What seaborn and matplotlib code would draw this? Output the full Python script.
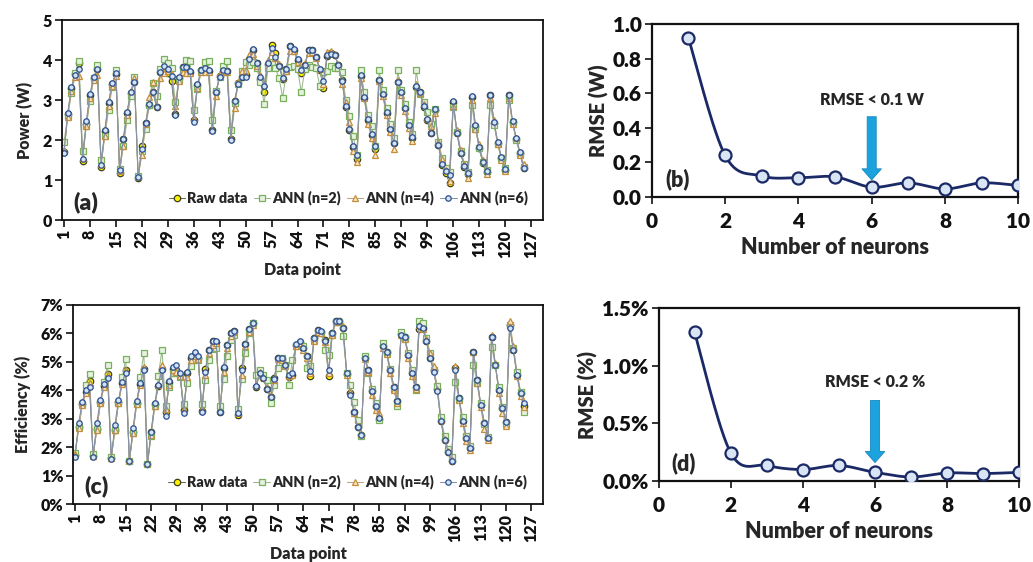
import numpy as np
import pandas as pd
import matplotlib
matplotlib.use("Agg")
import matplotlib.pyplot as plt
import seaborn as sns
from matplotlib.ticker import FuncFormatter

sns.set_theme(style="ticks")
plt.rcParams['font.family'] = ['Lato', 'DejaVu Sans']
W = "heavy"
plt.rcParams['font.weight'] = W
plt.rcParams['axes.labelweight'] = W

# ---------------- data ----------------
data_point = list(range(1, 126))
x_tick_labels = [1, 8, 15, 22, 29, 36, 43, 50, 57, 64, 71, 78, 85, 92, 99, 106, 113, 120, 127]
series_names = ["Raw data", "ANN (n=2)", "ANN (n=4)", "ANN (n=6)"]

power_raw = [
    1.70, 2.65, 3.30, 3.65, 3.92, 1.48, 2.40, 3.12, 3.55, 3.78,
    1.33, 2.22, 2.92, 3.40, 3.66, 1.18, 2.02, 2.68, 3.18, 3.45,
    1.05, 1.84, 2.42, 2.88, 3.20, 2.83, 3.70, 3.75, 3.68, 3.47,
    2.65, 3.55, 3.82, 3.82, 3.70, 2.50, 3.38, 3.75, 3.78, 3.72,
    2.25, 3.20, 3.60, 3.72, 3.72, 2.02, 2.98, 3.42, 3.58, 3.62,
    4.03, 4.25, 3.92, 3.53, 3.20, 3.90, 4.38, 4.18, 3.85, 3.52,
    3.78, 4.36, 4.25, 4.00, 3.68, 3.88, 4.26, 4.24, 4.08, 3.75,
    3.30, 4.10, 4.18, 4.12, 3.88, 3.50, 2.83, 2.25, 1.83, 1.52,
    3.60, 3.05, 2.50, 2.12, 1.78, 3.50, 3.14, 2.67, 2.27, 1.92,
    3.46, 3.20, 2.79, 2.37, 2.06, 3.33, 3.20, 2.83, 2.50, 2.17,
    2.75, 1.87, 1.38, 1.18, 0.92, 2.94, 2.17, 1.67, 1.33, 1.15,
    3.08, 2.35, 1.80, 1.42, 1.20, 3.13, 2.42, 1.92, 1.56, 1.25,
    3.13, 2.44, 2.02, 1.67, 1.30]
power_ann2 = [
    1.95, 2.60, 3.18, 3.68, 3.98, 1.72, 2.35, 2.98, 3.55, 3.87,
    1.50, 2.10, 2.75, 3.32, 3.75, 1.28, 1.85, 2.50, 3.10, 3.58,
    1.10, 1.72, 2.28, 2.88, 3.42, 3.10, 3.78, 4.02, 3.92, 3.80,
    2.95, 3.50, 3.78, 4.00, 3.98, 2.75, 3.28, 3.72, 3.95, 3.98,
    2.50, 3.22, 3.58, 3.85, 3.98, 2.25, 2.92, 3.40, 3.72, 3.95,
    3.88, 3.95, 3.80, 3.45, 2.90, 3.80, 3.95, 3.80, 3.55, 3.06,
    3.72, 3.82, 3.85, 3.78, 3.20, 3.78, 3.88, 3.82, 3.80, 3.35,
    3.70, 3.72, 3.85, 3.80, 3.80, 3.70, 3.00, 2.60, 2.10, 1.62,
    3.75, 3.20, 2.62, 2.35, 1.85, 3.75, 3.25, 2.80, 2.40, 2.05,
    3.75, 3.25, 2.90, 2.45, 2.15, 3.75, 3.15, 2.95, 2.70, 2.40,
    2.78, 1.95, 1.55, 1.30, 1.20, 2.83, 2.20, 1.72, 1.40, 1.20,
    2.87, 2.28, 1.80, 1.45, 1.25, 2.88, 2.38, 1.90, 1.55, 1.30,
    3.00, 2.45, 2.00, 1.65, 1.32]
power_ann4 = [
    1.75, 2.58, 3.22, 3.58, 3.60, 1.55, 2.35, 3.05, 3.50, 3.63,
    1.40, 2.10, 2.85, 3.35, 3.60, 1.22, 1.85, 2.62, 3.22, 3.55,
    1.10, 1.62, 2.40, 3.08, 3.45, 2.85, 3.55, 3.68, 3.72, 3.65,
    2.85, 3.48, 3.70, 3.68, 3.68, 2.55, 3.30, 3.70, 3.70, 3.70,
    2.25, 3.10, 3.65, 3.72, 3.70, 2.05, 2.80, 3.45, 3.72, 3.75,
    4.12, 4.15, 3.85, 3.62, 3.40, 4.00, 4.20, 4.05, 3.90, 3.58,
    3.72, 4.22, 4.22, 3.95, 3.78, 3.92, 4.18, 4.20, 4.05, 3.78,
    3.40, 4.20, 4.22, 4.15, 3.90, 3.40, 2.95, 2.45, 1.72, 1.45,
    3.55, 3.05, 2.40, 2.05, 1.62, 3.48, 3.10, 2.62, 2.20, 1.78,
    3.50, 3.12, 2.72, 2.30, 1.98, 3.40, 3.18, 2.90, 2.55, 2.35,
    2.68, 1.95, 1.52, 1.25, 0.98, 2.85, 2.25, 1.75, 1.40, 1.05,
    3.00, 2.28, 1.90, 1.50, 1.15, 3.05, 2.50, 1.90, 1.50, 1.22,
    3.05, 2.40, 2.05, 1.62, 1.40]
power_ann6 = [
    1.68, 2.68, 3.32, 3.63, 3.78, 1.52, 2.47, 3.15, 3.57, 3.77,
    1.38, 2.25, 2.95, 3.42, 3.67, 1.25, 2.02, 2.71, 3.19, 3.46,
    1.07, 1.78, 2.42, 2.89, 3.19, 2.82, 3.70, 3.85, 3.78, 3.60,
    2.63, 3.58, 3.83, 3.83, 3.72, 2.45, 3.40, 3.75, 3.80, 3.75,
    2.23, 3.20, 3.58, 3.75, 3.72, 2.00, 2.98, 3.40, 3.58, 3.58,
    4.03, 4.27, 3.92, 3.58, 3.35, 3.92, 4.30, 4.08, 3.85, 3.55,
    3.78, 4.35, 4.27, 4.02, 3.75, 3.88, 4.25, 4.25, 4.08, 3.78,
    3.48, 4.12, 4.15, 4.12, 3.88, 3.48, 2.85, 2.28, 1.85, 1.62,
    3.62, 3.07, 2.52, 2.15, 1.85, 3.50, 3.15, 2.70, 2.28, 1.92,
    3.45, 3.20, 2.79, 2.38, 2.08, 3.35, 3.20, 2.85, 2.52, 2.18,
    2.77, 1.88, 1.40, 1.22, 1.12, 2.97, 2.18, 1.68, 1.35, 1.18,
    3.10, 2.37, 1.82, 1.45, 1.22, 3.13, 2.45, 1.95, 1.58, 1.28,
    3.13, 2.47, 2.05, 1.70, 1.30]

eff_raw = [
    1.72, 2.70, 3.50, 3.95, 4.33, 1.68, 2.65, 3.58, 4.15, 4.58,
    1.62, 2.62, 3.58, 4.25, 4.72, 1.52, 2.55, 3.55, 4.22, 4.75,
    1.42, 2.52, 3.50, 4.15, 4.75, 3.25, 4.30, 4.75, 4.70, 4.55,
    3.30, 4.60, 5.15, 5.28, 5.15, 3.28, 4.75, 5.40, 5.72, 5.70,
    3.22, 4.80, 5.58, 6.00, 6.08, 3.12, 4.78, 5.62, 6.15, 6.35,
    4.12, 4.60, 4.42, 4.05, 3.75, 4.42, 5.15, 5.10, 4.90, 4.46,
    4.55, 5.60, 5.70, 5.48, 5.19, 4.52, 5.83, 6.12, 6.05, 5.77,
    4.52, 6.01, 6.45, 6.45, 6.18, 4.58, 3.90, 3.25, 2.72, 2.43,
    5.13, 4.72, 3.98, 3.43, 3.00, 5.57, 5.36, 4.72, 4.13, 3.63,
    5.99, 5.87, 5.25, 4.60, 4.13, 6.15, 6.18, 5.72, 5.15, 4.70,
    4.05, 2.92, 2.25, 1.84, 1.52, 4.78, 3.72, 2.92, 2.33, 1.96,
    5.35, 4.37, 3.49, 2.85, 2.32, 5.89, 4.90, 4.01, 3.37, 2.88,
    6.30, 5.42, 4.54, 3.90, 3.43]
eff_ann2 = [
    1.80, 2.70, 3.52, 4.19, 4.59, 1.75, 2.65, 3.55, 4.30, 4.89,
    1.65, 2.62, 3.55, 4.45, 5.10, 1.52, 2.50, 3.52, 4.48, 5.30,
    1.40, 2.40, 3.45, 4.50, 5.42, 3.43, 4.12, 4.62, 4.60, 4.48,
    3.50, 4.25, 4.85, 5.05, 5.05, 3.50, 4.35, 5.05, 5.45, 5.50,
    3.45, 4.40, 5.22, 5.78, 5.95, 3.35, 4.40, 5.30, 6.00, 6.35,
    4.55, 4.70, 4.55, 4.35, 3.54, 4.20, 4.80, 5.12, 4.90, 4.17,
    5.07, 5.55, 5.65, 5.55, 4.78, 4.85, 5.78, 6.05, 6.00, 5.42,
    5.25, 5.95, 6.40, 6.40, 5.92, 4.60, 4.20, 3.60, 2.95, 2.40,
    5.20, 4.60, 4.05, 3.55, 2.95, 5.65, 5.30, 4.75, 4.05, 3.45,
    6.05, 5.85, 5.30, 4.70, 4.00, 6.42, 6.35, 5.85, 5.30, 4.70,
    4.15, 3.05, 2.40, 1.95, 1.65, 4.30, 3.70, 3.05, 2.40, 2.05,
    4.90, 4.25, 3.55, 2.80, 2.35, 5.54, 4.90, 4.10, 3.40, 2.80,
    6.30, 5.50, 4.65, 3.95, 3.25]
eff_ann4 = [
    1.75, 2.68, 3.48, 3.90, 4.25, 1.70, 2.62, 3.55, 4.12, 4.55,
    1.62, 2.60, 3.55, 4.22, 4.70, 1.55, 2.50, 3.52, 4.20, 4.82,
    1.45, 2.42, 3.45, 4.18, 4.90, 3.35, 4.20, 4.70, 4.65, 4.50,
    3.35, 4.45, 5.05, 5.20, 5.10, 3.35, 4.55, 5.30, 5.60, 5.65,
    3.30, 4.65, 5.50, 5.90, 6.05, 3.20, 4.55, 5.55, 6.05, 6.30,
    4.20, 4.65, 4.45, 4.10, 3.85, 4.35, 5.10, 5.05, 4.85, 4.50,
    4.55, 5.55, 5.65, 5.42, 5.15, 4.60, 5.75, 6.05, 6.00, 5.70,
    4.62, 5.95, 6.40, 6.42, 6.25, 4.55, 3.95, 3.20, 2.75, 2.45,
    5.10, 4.65, 3.85, 3.30, 3.20, 5.50, 5.28, 4.60, 4.00, 3.55,
    5.95, 5.80, 5.15, 4.50, 4.05, 6.30, 6.15, 5.80, 5.30, 4.87,
    4.05, 2.95, 2.30, 1.85, 1.55, 4.85, 3.65, 2.85, 2.20, 1.90,
    5.35, 4.25, 3.40, 2.65, 2.25, 5.95, 4.95, 3.90, 3.20, 2.75,
    6.42, 5.55, 4.50, 3.80, 3.40]
eff_ann6 = [
    1.67, 2.86, 3.60, 4.01, 4.10, 1.64, 2.86, 3.66, 4.21, 4.42,
    1.60, 2.78, 3.66, 4.28, 4.62, 1.52, 2.66, 3.62, 4.24, 4.72,
    1.40, 2.55, 3.54, 4.19, 4.72, 3.10, 4.33, 4.83, 4.89, 4.60,
    3.20, 4.65, 5.19, 5.35, 5.20, 3.25, 4.66, 5.42, 5.75, 5.72,
    3.22, 4.81, 5.58, 6.01, 6.10, 3.19, 4.70, 5.62, 6.15, 6.38,
    4.15, 4.60, 4.43, 4.05, 3.75, 4.40, 5.15, 5.12, 4.88, 4.54,
    4.62, 5.62, 5.72, 5.48, 5.20, 4.68, 5.85, 6.13, 6.07, 5.75,
    4.72, 6.01, 6.45, 6.45, 6.18, 4.60, 3.84, 3.25, 2.72, 2.43,
    5.13, 4.72, 3.98, 3.43, 3.02, 5.55, 5.36, 4.72, 4.13, 3.63,
    5.95, 5.87, 5.25, 4.60, 4.13, 6.25, 6.18, 5.72, 5.15, 4.66,
    3.98, 2.92, 2.25, 1.84, 1.52, 4.72, 3.72, 2.92, 2.33, 1.96,
    5.33, 4.37, 3.49, 2.85, 2.32, 5.89, 4.90, 4.01, 3.37, 2.88,
    6.18, 5.42, 4.54, 3.90, 3.55]

neurons = [1, 2, 3, 4, 5, 6, 7, 8, 9, 10]
rmse_power = [0.92, 0.24, 0.12, 0.11, 0.115, 0.055, 0.08, 0.045, 0.08, 0.065]
rmse_eff = [1.29, 0.245, 0.135, 0.10, 0.135, 0.075, 0.035, 0.07, 0.065, 0.075]

# ---------------- styles ----------------
# name: (marker, size, face, edge, line colour)
styles = {
    "Raw data": ("o", 4.6, "#FFF200", "#3E3E18", "#6A6A55"),
    "ANN (n=2)": ("s", 5.0, "#E6F1DE", "#78B05E", "#98B88A"),
    "ANN (n=4)": ("^", 4.4, "#F8E6C6", "#C48D3A", "#BFA37A"),
    "ANN (n=6)": ("o", 3.9, "#D4E3F5", "#2B4F8E", "#8592AA"),
}
navy = "#1B2A66"
arrow_c = "#1CA3DE"

fig = plt.figure(figsize=(10.33, 5.62), dpi=100)
ax_a = fig.add_axes([0.0600, 0.6085, 0.4656, 0.3559])
ax_c = fig.add_axes([0.0707, 0.1032, 0.4550, 0.3541])
ax_b = fig.add_axes([0.6309, 0.6500, 0.3549, 0.3073])
ax_d = fig.add_axes([0.6375, 0.1441, 0.3493, 0.3073])


def style_axes(ax, labelsize):
    for s in ax.spines.values():
        s.set_visible(True)
        s.set_color("#111111")
        s.set_linewidth(1.3)
    ax.tick_params(direction="out", length=5, width=1.2, colors="#111111",
                   labelsize=labelsize, pad=2)
    for lab in ax.get_xticklabels() + ax.get_yticklabels():
        lab.set_fontweight(W)


def time_series(ax, values_list, ylim, yticks, yfmt, ylabel, tag, leg_x):
    for name, vals in zip(series_names, values_list):
        m, ms, fc, ec, lc = styles[name]
        sns.lineplot(x=data_point, y=vals, ax=ax, label=name, color=lc,
                     linewidth=0.75, marker=m, markersize=ms,
                     markerfacecolor=fc, markeredgecolor=ec,
                     markeredgewidth=0.9)
    ax.set_xlim(0.45, 130.2)
    ax.set_ylim(*ylim)
    ax.set_xticks(x_tick_labels)
    ax.set_xticklabels([str(v) for v in x_tick_labels], rotation=90)
    ax.set_yticks(yticks)
    ax.yaxis.set_major_formatter(FuncFormatter(yfmt))
    ax.set_xlabel("Data point", fontsize=11.5, fontweight=W, labelpad=3)
    ax.set_ylabel(ylabel, fontsize=11.5, fontweight=W, labelpad=7)
    style_axes(ax, 11.5)
    ax.text(0.05, 0.09, tag, transform=ax.transAxes, fontsize=16.5,
            fontweight=W, ha="center", va="center")
    ax.legend(loc="center", bbox_to_anchor=(leg_x, 0.11), ncol=4,
              frameon=False, handlelength=1.15,
              handletextpad=0.15, columnspacing=0.4, borderaxespad=0,
              prop={"weight": W, "size": 10.4})


def excel_smooth(xs, ys, n=30):
    P = np.column_stack([xs, ys]).astype(float)
    E = np.vstack([P[0], P, P[-1]])
    t = np.linspace(0, 1, n)[:, None]
    out = []
    for i in range(len(P) - 1):
        p0, p1, p2, p3 = E[i], E[i + 1], E[i + 2], E[i + 3]
        c1 = p1 + (p2 - p0) / 6
        c2 = p2 - (p3 - p1) / 6
        seg = (1 - t) ** 3 * p1 + 3 * (1 - t) ** 2 * t * c1 + 3 * (1 - t) * t ** 2 * c2 + t ** 3 * p2
        out.append(seg if i == 0 else seg[1:])
    return np.vstack(out)


def rmse_panel(ax, vals, ylim, yticks, yfmt, ylabel, tag, note, note_y, arrow_top, arrow_gap):
    curve = excel_smooth(neurons, vals)
    ax.plot(curve[:, 0], curve[:, 1], color=navy, linewidth=2.0, zorder=2)
    sns.scatterplot(x=neurons, y=vals, ax=ax, s=75, color="#D9E4F4",
                    edgecolor=navy, linewidth=1.6, zorder=3, legend=False)
    ax.set_xlim(0, 10)
    ax.set_ylim(*ylim)
    ax.set_xticks([0, 2, 4, 6, 8, 10])
    ax.set_yticks(yticks)
    ax.yaxis.set_major_formatter(FuncFormatter(yfmt))
    ax.set_xlabel("Number of neurons", fontsize=15.5, fontweight=W, labelpad=4)
    ax.set_ylabel(ylabel, fontsize=14.5, fontweight=W, labelpad=3)
    style_axes(ax, 15)
    ax.tick_params(axis="x", pad=6)
    for s in ax.spines.values():
        s.set_linewidth(1.6)
    ax.text(0.07, 0.10, tag, transform=ax.transAxes, fontsize=15.5,
            fontweight=W, ha="center", va="center")
    i6 = neurons.index(6)
    ax.text(6, note_y, note, fontsize=11.5, fontweight=W, ha="center", va="center")
    ax.annotate("", xy=(6, vals[i6] + arrow_gap), xytext=(6, arrow_top),
                arrowprops=dict(arrowstyle="simple,head_width=1.4,head_length=0.8,tail_width=0.65",
                                fc=arrow_c, ec="#1589BD", lw=0.6, mutation_scale=10,
                                shrinkA=0, shrinkB=0))


time_series(ax_a, [power_raw, power_ann2, power_ann4, power_ann6], (0, 5),
            [0, 1, 2, 3, 4, 5], lambda v, p: f"{v:.0f}", "Power (W)", "(a)", 0.595)
time_series(ax_c, [eff_raw, eff_ann2, eff_ann4, eff_ann6], (0, 7),
            [0, 1, 2, 3, 4, 5, 6, 7], lambda v, p: f"{v:.0f}%", "Efficiency (%)", "(c)", 0.585)

rmse_panel(ax_b, rmse_power, (0, 1.0), [0, 0.2, 0.4, 0.6, 0.8, 1.0],
           lambda v, p: f"{v:.1f}", "RMSE (W)", "(b)", "RMSE < 0.1 W", 0.56, 0.463, 0.042)
rmse_panel(ax_d, rmse_eff, (0, 1.5), [0, 0.5, 1.0, 1.5],
           lambda v, p: f"{v:.1f}%", "RMSE (%)", "(d)", "RMSE < 0.2 %", 0.86, 0.70, 0.085)

fig.savefig("out.png", dpi=100, facecolor="white")
